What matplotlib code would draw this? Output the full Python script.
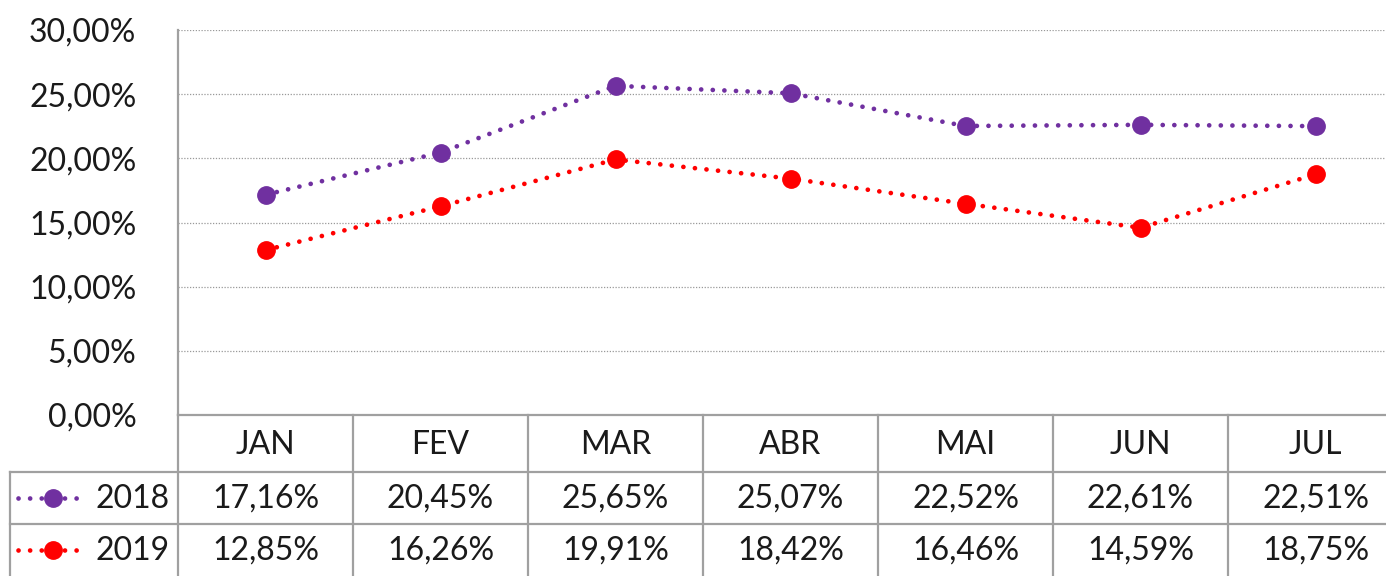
import matplotlib.pyplot as plt
from matplotlib.ticker import FuncFormatter

# Dados
meses = ["JAN", "FEV", "MAR", "ABR", "MAI", "JUN", "JUL"]
series = ["2018", "2019"]
valores_2018 = [17.16, 20.45, 25.65, 25.07, 22.52, 22.61, 22.51]
valores_2019 = [12.85, 16.26, 19.91, 18.42, 16.46, 14.59, 18.75]
cores = ["#7030A0", "#FF0000"]

plt.rcParams['font.family'] = ['Lato', 'DejaVu Sans']
FONT = 23
W, H = 1386, 576

# Geometria em pixels
x0, col_w = 178, 175
y_top, y_axis, y_r1, y_r2 = 30, 415, 472, 524
x_tab = 10
x_right = x0 + col_w * len(meses)
LW, DOTS, MS = 3.4, (0, (0.01, 2.45)), 12.5


def fmt_pct(v):
    return f"{v:.2f}%".replace(".", ",")


fig = plt.figure(figsize=(W / 100, H / 100), dpi=100)
ax = fig.add_axes([x0 / W, (H - y_axis) / H, (x_right - x0) / W, (y_axis - y_top) / H])

xs = list(range(len(meses)))
for vals, cor in zip([valores_2018, valores_2019], cores):
    ax.plot(xs, vals, color=cor, lw=LW, linestyle=DOTS,
            dash_capstyle='round', marker='o', ms=MS, zorder=3)

ax.set_xlim(-0.5, len(meses) - 0.5)
ax.set_ylim(0, 30)
ax.set_yticks(range(0, 31, 5))
ax.yaxis.set_major_formatter(FuncFormatter(lambda v, p: fmt_pct(v)))
ax.tick_params(axis='y', length=0, labelsize=FONT, pad=30, colors='#1a1a1a')
ax.set_xticks([])
ax.grid(axis='y', linestyle=(0, (1, 1.3)), color='#999999', lw=0.9)
for s in ['top', 'right', 'bottom']:
    ax.spines[s].set_visible(False)
ax.spines['left'].set_color('#A0A0A0')
ax.spines['left'].set_linewidth(1.6)

# Tabela de dados (coordenadas em pixels)
tab = fig.add_axes([0, 0, 1, 1], facecolor='none')
tab.set_xlim(0, W)
tab.set_ylim(H, 0)
tab.axis('off')
lc = '#A0A0A0'
tab.plot([x0, W], [y_axis, y_axis], color=lc, lw=1.6)
tab.plot([x_tab, W], [y_r1, y_r1], color=lc, lw=1.6)
tab.plot([x_tab, W], [y_r2, y_r2], color=lc, lw=1.6)
tab.plot([x0, x0], [y_axis, H], color=lc, lw=1.6)
tab.plot([x_tab, x_tab], [y_r1, H], color=lc, lw=1.6)
for i in range(1, len(meses) + 1):
    xi = x0 + col_w * i
    tab.plot([xi, xi], [y_axis, H], color=lc, lw=1.6)

for i, m in enumerate(meses):
    tab.text(x0 + col_w * (i + 0.5), (y_axis + y_r1) / 2 + 1, m, ha='center', va='center',
             fontsize=FONT, color='#1a1a1a')

linhas = [(y_r1 + y_r2) / 2, (y_r2 + H) / 2]
for yc, nome, vals, cor in zip(linhas, series, [valores_2018, valores_2019], cores):
    tab.plot([18, 80], [yc, yc], color=cor, lw=LW, linestyle=DOTS,
             dash_capstyle='round')
    tab.plot([53], [yc], color=cor, marker='o', ms=MS)
    tab.text(170, yc + 1, nome, ha='right', va='center', fontsize=FONT, color='#1a1a1a')
    for i, v in enumerate(vals):
        tab.text(x0 + col_w * (i + 0.5), yc + 1, fmt_pct(v), ha='center', va='center',
                 fontsize=FONT, color='#1a1a1a')

fig.savefig("out.png", dpi=100)
